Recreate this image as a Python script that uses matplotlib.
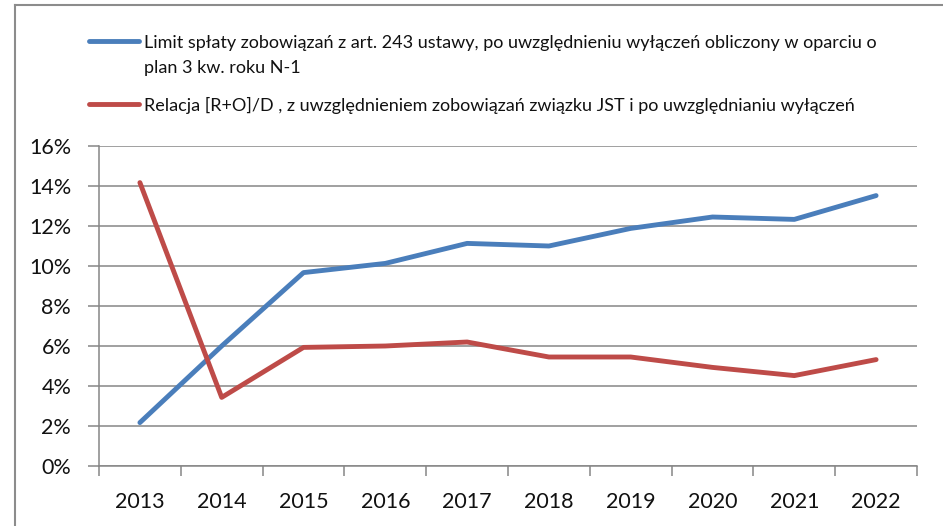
import matplotlib
matplotlib.use("Agg")
import matplotlib.pyplot as plt
from matplotlib.lines import Line2D
from matplotlib.ticker import FuncFormatter, FixedLocator, NullFormatter
import numpy as np

years = ["2013", "2014", "2015", "2016", "2017", "2018", "2019", "2020", "2021", "2022"]
limit_values = [2.17, 6.0, 9.67, 10.13, 11.13, 11.0, 11.88, 12.45, 12.33, 13.52]
relacja_values = [14.17, 3.43, 5.93, 6.0, 6.2, 5.45, 5.45, 4.93, 4.52, 5.32]
label_limit = "Limit spłaty zobowiązań z art. 243 ustawy, po uwzględnieniu wyłączeń obliczony w oparciu o\nplan 3 kw. roku N-1"
label_relacja = "Relacja [R+O]/D , z uwzględnieniem zobowiązań związku JST i po uwzględnianiu wyłączeń"
y_ticks = [0, 2, 4, 6, 8, 10, 12, 14, 16]

plt.rcParams['font.family'] = ['Lato', 'DejaVu Sans']

W, H = 943, 526
fig = plt.figure(figsize=(W / 100, H / 100), dpi=100)
fig.patch.set_facecolor("white")

def fx(px):
    return px / W

def fy(py):
    return 1 - py / H

# outer chart border
border_col = "#8c8c8c"
fig.add_artist(Line2D([fx(15), fx(15)], [fy(5), 0], color=border_col, lw=1.5))
fig.add_artist(Line2D([fx(15), 1], [fy(5), fy(5)], color=border_col, lw=1.5))

ax = fig.add_axes([fx(99), fy(466), fx(917) - fx(99), fy(146) - fy(466)])

blue = "#4A7EBB"
red = "#BE4B48"
grid_col = "#868686"

x = np.arange(len(years))
ax.plot(x, limit_values, color=blue, lw=3.5, solid_capstyle="round", solid_joinstyle="round", zorder=3)
ax.plot(x, relacja_values, color=red, lw=3.5, solid_capstyle="round", solid_joinstyle="round", zorder=3)

ax.set_xlim(-0.5, len(years) - 0.5)
ax.set_ylim(0, 16)
ax.set_yticks(y_ticks)
ax.yaxis.set_major_formatter(FuncFormatter(lambda v, p: f"{int(v)}%"))
ax.grid(axis="y", color=grid_col, lw=1.1)
ax.set_axisbelow(True)

# x ticks at category boundaries, labels at centers
ax.xaxis.set_major_locator(FixedLocator(np.arange(-0.5, len(years), 1.0)))
ax.xaxis.set_major_formatter(NullFormatter())
ax.xaxis.set_minor_locator(FixedLocator(x))
ax.set_xticklabels(years, minor=True)
ax.tick_params(axis="x", which="minor", length=0, pad=19, labelsize=15.5, labelcolor="#111111")
ax.tick_params(axis="x", which="major", length=7, width=1.1, color=grid_col, direction="out")
ax.tick_params(axis="y", length=8, width=1.1, color=grid_col, direction="out", pad=12,
               labelsize=15.5, labelcolor="#111111")

for s in ["top", "right"]:
    ax.spines[s].set_visible(False)
for s in ["left", "bottom"]:
    ax.spines[s].set_color(grid_col)
    ax.spines[s].set_linewidth(1.1)

# legend (manual, Excel-like)
fig.add_artist(Line2D([fx(89), fx(139)], [fy(41), fy(41)], color=blue, lw=3.5, solid_capstyle="round"))
for i, line in enumerate(label_limit.split("\n")):
    fig.text(fx(144), fy(41 + 25 * i), line, fontsize=13, va="center_baseline", ha="left", color="#111111")
fig.add_artist(Line2D([fx(89), fx(139)], [fy(104), fy(104)], color=red, lw=3.5, solid_capstyle="round"))
fig.text(fx(144), fy(104), label_relacja, fontsize=13, va="center_baseline", ha="left", color="#111111")

fig.savefig("out.png", dpi=100)
